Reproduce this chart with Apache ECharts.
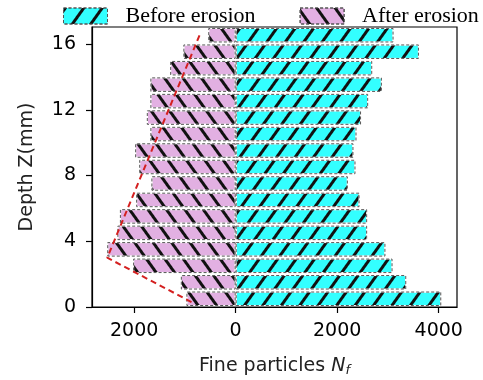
<!DOCTYPE html>
<html>
<head>
<meta charset="utf-8">
<script src="https://cdn.jsdelivr.net/npm/echarts@6/dist/echarts.min.js"></script>
<style>
  html, body { margin: 0; padding: 0; background: #fff; }
  #chart { width: 483px; height: 380px; }
</style>
</head>
<body>
<div id="chart"></div>
<script>
// Depth slices (mm), one bar per slice, bottom to top
const depthSlices = ['0.5', '1.5', '2.5', '3.5', '4.5', '5.5', '6.5', '7.5', '8.5',
                     '9.5', '10.5', '11.5', '12.5', '13.5', '14.5', '15.5', '16.5'];
// Fine particle counts per slice
const beforeErosion = [4050, 3360, 3090, 2950, 2590, 2590, 2440, 2210, 2360,
                       2320, 2380, 2470, 2610, 2880, 2690, 3610, 3110];
const afterErosion  = [970, 1080, 2020, 2530, 2330, 2280, 1960, 1660, 1900,
                       1980, 1680, 1750, 1680, 1680, 1290, 1030, 540];
// Trend line drawn over the after-erosion profile
const trendN = [-870, -2530, -690];
const trendZ = [0.3, 3.0, 16.7];
// Axis ticks
const xTicks = [-2000, 0, 2000, 4000];
const zTicks = [0, 4, 8, 12, 16];

const afterNeg = afterErosion.map(v => -v);

// Diagonal hatching: "/" for before, "\" for after
const cyanDecal = {
  symbol: 'rect', symbolSize: 1, color: '#111',
  dashArrayX: [1, 0], dashArrayY: [2.2, 12], rotation: -0.95
};
const pinkDecal = {
  symbol: 'rect', symbolSize: 1, color: '#111',
  dashArrayX: [1, 0], dashArrayY: [2.2, 12], rotation: 0.95
};

const tickFont = { fontFamily: 'DejaVu Sans', fontSize: 19, color: '#000' };

const chart = echarts.init(document.getElementById('chart'), null, { renderer: 'canvas' });
chart.setOption({
  animation: false,
  backgroundColor: '#fff',
  legend: {
    orient: 'horizontal',
    left: 58, top: 0, width: 470,
    icon: 'rect',
    itemWidth: 44, itemHeight: 16, itemGap: 44,
    textStyle: { fontFamily: 'Liberation Serif', fontSize: 22, color: '#000', padding: [0, 0, 0, 13] },
    data: [
      { name: 'Before erosion', itemStyle: { borderColor: '#555', borderType: [3, 2], borderWidth: 1 } },
      { name: 'After erosion', itemStyle: { borderColor: '#555', borderType: [3, 2], borderWidth: 1 } }
    ]
  },
  grid: {
    left: 92, right: 26, top: 27, bottom: 73,
    containLabel: false, outerBoundsMode: 'none',
    show: true, borderColor: '#000', borderWidth: 1.2, backgroundColor: '#fff'
  },
  xAxis: {
    type: 'value', min: -2830, max: 4360,
    name: 'Fine particles {i|N}{s|f}',
    nameLocation: 'middle', nameGap: 49,
    nameTextStyle: {
      fontFamily: 'DejaVu Sans', fontSize: 19, color: '#222',
      rich: {
        i: { fontFamily: 'DejaVu Sans', fontStyle: 'italic', fontSize: 19, color: '#222' },
        s: { fontFamily: 'DejaVu Sans', fontStyle: 'italic', fontSize: 13, color: '#222', verticalAlign: 'bottom', padding: [8, 0, 0, 0] }
      }
    },
    axisLine: { show: true, lineStyle: { color: '#000', width: 1.2 } },
    axisTick: { show: true, length: 6, customValues: xTicks, lineStyle: { color: '#000', width: 1.2 } },
    axisLabel: Object.assign({ margin: 15, customValues: xTicks, formatter: v => String(Math.abs(v)) }, tickFont),
    splitLine: { show: false }
  },
  yAxis: [
    {
      type: 'category', data: depthSlices, show: false,
      position: 'left'
    },
    {
      type: 'value', min: 0, max: 17.04, position: 'left',
      name: 'Depth Z(mm)', nameLocation: 'middle', nameGap: 55,
      nameTextStyle: { fontFamily: 'DejaVu Sans', fontSize: 19, color: '#222' },
      axisLine: { show: true, lineStyle: { color: '#000', width: 1.2 } },
      axisTick: { show: true, length: 6, customValues: zTicks, lineStyle: { color: '#000', width: 1.2 } },
      axisLabel: Object.assign({ margin: 16, customValues: zTicks }, tickFont),
      splitLine: { show: false }
    }
  ],
  series: [
    {
      name: 'Before erosion', type: 'bar', yAxisIndex: 0,
      data: beforeErosion, barWidth: '88%', barGap: '-100%',
      itemStyle: { color: '#33ffff', borderColor: '#fff', borderWidth: 1, decal: cyanDecal }
    },
    {
      name: 'After erosion', type: 'bar', yAxisIndex: 0,
      data: afterNeg, barWidth: '88%', barGap: '-100%',
      itemStyle: { color: '#e2b0e2', borderColor: '#fff', borderWidth: 1, decal: pinkDecal }
    },
    {
      name: 'before-edge', type: 'bar', yAxisIndex: 0, silent: true,
      data: beforeErosion, barWidth: '88%', barGap: '-100%',
      itemStyle: { color: 'rgba(0,0,0,0)', borderColor: '#555', borderWidth: 1, borderType: [3, 2] }
    },
    {
      name: 'after-edge', type: 'bar', yAxisIndex: 0, silent: true,
      data: afterNeg, barWidth: '88%', barGap: '-100%',
      itemStyle: { color: 'rgba(0,0,0,0)', borderColor: '#555', borderWidth: 1, borderType: [3, 2] }
    },
    {
      name: 'trend', type: 'line', yAxisIndex: 1, z: 5,
      data: trendN.map((n, i) => [n, trendZ[i]]),
      symbol: 'none',
      lineStyle: { color: '#d42020', width: 2, type: [6, 4] }
    }
  ]
});
</script>
</body>
</html>
